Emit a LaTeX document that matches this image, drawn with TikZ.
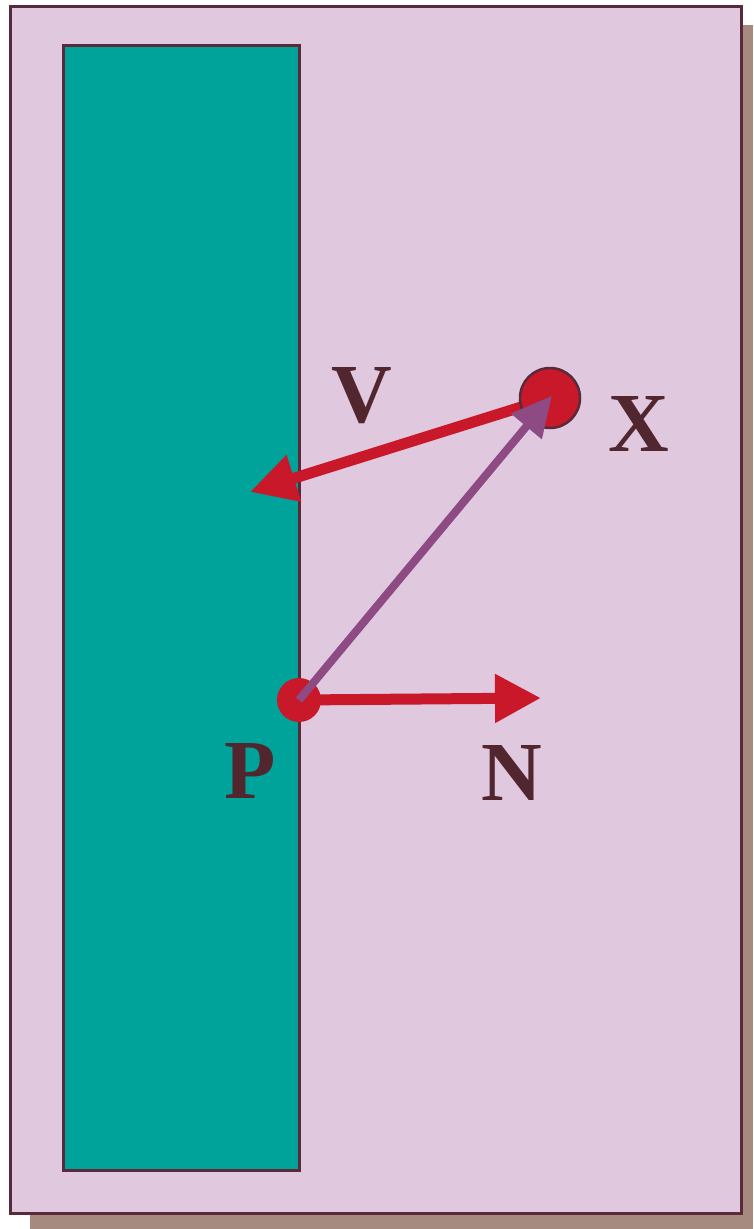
\documentclass[tikz,border=0pt]{standalone}
\usepackage{fontspec}
\setmainfont{Liberation Serif}
\usetikzlibrary{arrows.meta}
\definecolor{bgpink}{HTML}{E0C8DF}
\definecolor{teal2}{HTML}{00A39A}
\definecolor{edge}{HTML}{5A2A3A}
\definecolor{shadowc}{HTML}{A68A80}
\definecolor{redc}{HTML}{C8182A}
\definecolor{purp}{HTML}{8E4A82}
\definecolor{txt}{HTML}{52262F}
\tikzset{
  lab/.style={text=txt, font=\fontsize{84}{84}\selectfont\bfseries, inner sep=0pt},
  redarrow/.style={draw=redc, line width=11pt, -{Triangle[length=46pt,width=46pt]}},
  purparrow/.style={draw=purp, line width=8pt, -{Triangle[length=40pt,width=38pt]}},
}
\begin{document}
\begin{tikzpicture}[x=1pt,y=-1pt]
\useasboundingbox (0,0) rectangle (753,1229);
% shadow
\fill[shadowc] (30,25) rectangle (753,1229);
% outer panel
\draw[fill=bgpink, draw=edge, line width=3pt] (10,6) rectangle (741,1213);
% green slab
\draw[fill=teal2, draw=edge, line width=3pt] (63,45) rectangle (299,1170);
% points
\coordinate (Xc) at (550,398);
\coordinate (Vtip) at (250,492);
\coordinate (Ntip) at (541,698);
\draw[redarrow] (Xc) -- (Vtip);
\node[circle, fill=redc, draw=edge, line width=2.5pt, minimum size=60pt, inner sep=0pt] (X) at (Xc) {};
\node[circle, fill=redc, minimum size=44pt, inner sep=0pt] (P) at (299,700) {};
% arrows
\draw[redarrow] (P.center) -- (Ntip);
\draw[purparrow, shorten >=-3pt] (P.center) -- (X.center);
% labels
\node[lab] (Vl) at (362,396) {V};
\node[lab] (Xl) at (639,424) {X};
\node[lab] (Pl) at (250,771) {P};
\node[lab] (Nl) at (512,773) {N};
\end{tikzpicture}
\end{document}
